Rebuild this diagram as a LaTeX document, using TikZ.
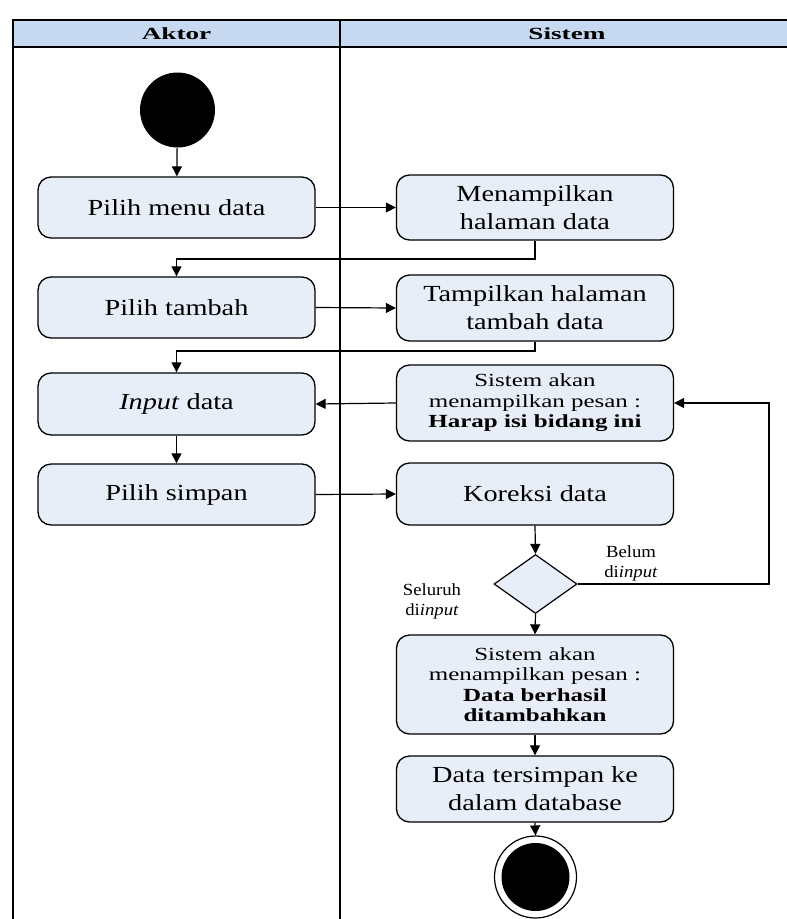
\documentclass[tikz,border=0pt]{standalone}
\usepackage{fontspec}
\setmainfont{Liberation Serif}
\newfontfamily\mainf[FakeStretch=1.23]{Liberation Serif}
\newfontfamily\smallf[FakeStretch=1.35]{Liberation Serif}
\newfontfamily\headf[FakeStretch=1.6]{Liberation Serif}
\newfontfamily\labf[FakeStretch=1.1]{Liberation Serif}
\usetikzlibrary{shapes.geometric,arrows.meta,calc}
\definecolor{hdrblue}{HTML}{C6D9F0}
\definecolor{actfill}{HTML}{E8EEF7}

\begin{document}
\begin{tikzpicture}[x=1pt,y=-1pt,
  act/.style={draw, line width=1.3pt, rounded corners=13pt, fill=actfill,
    minimum width=277pt, align=center, inner sep=0pt},
  mtext/.style={font={\mainf\fontsize{23}{28}\selectfont}},
  stext/.style={font={\smallf\fontsize{18.5}{20.5}\selectfont}},
  ltext/.style={font={\labf\fontsize{17}{20}\selectfont}, align=center, inner sep=0pt},
  htext/.style={font={\headf\bfseries\fontsize{17}{20}\selectfont}, inner sep=0pt},
  flow/.style={draw, line width=1.2pt, -{Triangle[length=10pt,width=10pt]}},
  lane/.style={draw, line width=1.5pt}]

\useasboundingbox (0,0) rectangle (787,919);

% swimlane frame
\fill[hdrblue] (13,20) rectangle (787,47);
\draw[lane] (787,20) -- (13,20) -- (13,919);
\draw[lane] (13,47) -- (787,47);
\draw[lane] (340,20) -- (340,919);
\node[htext] (hA) at (176.5,34) {Aktor};
\node[htext] (hS) at (567,34) {Sistem};

% actor lane
\node[circle, fill=black, minimum size=75pt, inner sep=0pt] (start) at (177.5,110) {};
\node[act, mtext, minimum height=61pt] (a1) at (176.5,207.5) {Pilih menu data};
\node[act, mtext, minimum height=61pt] (a2) at (176.5,307.5) {Pilih tambah};
\node[act, mtext, minimum height=62pt] (a3) at (176.5,404) {\textit{Input} data};
\node[act, mtext, minimum height=61pt] (a4) at (176.5,494.5) {Pilih simpan};

% system lane
\node[act, mtext, minimum height=65pt] (s1) at (535,207.5) {Menampilkan\\halaman data};
\node[act, mtext, minimum height=66pt] (s2) at (535,308) {Tampilkan halaman\\tambah data};
\node[act, stext, minimum height=76pt] (s3) at (535,403) {Sistem akan\\menampilkan pesan :\\\textbf{Harap isi bidang ini}};
\node[act, mtext, minimum height=62pt] (s4) at (535,494) {Koreksi data};
\node[diamond, draw, line width=1.2pt, fill=actfill, minimum width=83pt,
  minimum height=59pt, inner sep=0pt] (dec) at (535.5,584) {};
\node[act, stext, minimum height=99pt] (s5) at (535,684.5) {Sistem akan\\menampilkan pesan :\\\textbf{Data berhasil}\\\textbf{ditambahkan}};
\node[act, mtext, minimum height=66pt] (s6) at (535,789) {Data tersimpan ke\\dalam database};
\node[circle, draw, line width=1.2pt, fill=white, minimum size=82pt, inner sep=0pt] (stop) at (535.5,877) {};
\node[circle, fill=black, minimum size=68pt, inner sep=0pt] (stopin) at (stop.center) {};

% guard labels
\node[ltext] (lbelum) at (631,563) {Belum\\di\textit{input}};
\node[ltext] (lseluruh) at (432,601) {Seluruh\\di\textit{input}};

% bend points
\coordinate (j1) at (0,259);
\coordinate (j2) at (0,351);
\coordinate (loop) at (769,0);

% connectors
\draw[flow] (start) -- (a1);
\draw[flow] (a1.east) -- (s1.west);
\draw[flow] (s1.south) -- (s1.south |- j1) -| (a2.north);
\draw[flow] (a2.east) -- (s2.west);
\draw[flow] (s2.south) -- (s2.south |- j2) -| (a3.north);
\draw[flow] (s3.west) -- (a3.east);
\draw[flow] (a3.south) -- (a4.north);
\draw[flow] (a4.east) -- (s4.west);
\draw[flow] (s4.south) -- (dec.north);
\draw[flow] (dec.east) -- (dec.east -| loop) |- (s3.east);
\draw[flow] (dec.south) -- (s5.north);
\draw[flow] (s5.south) -- (s6.north);
\draw[flow] (s6.south) -- (stop.north);
\end{tikzpicture}
\end{document}
